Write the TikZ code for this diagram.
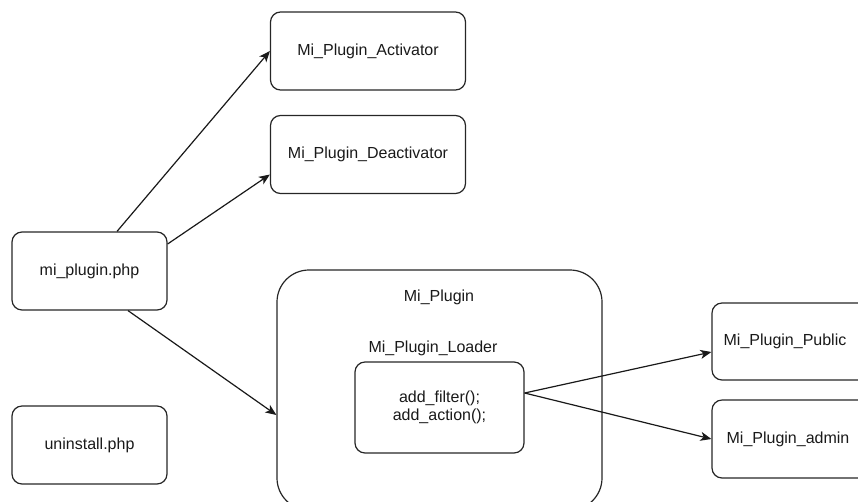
\documentclass[tikz,border=0pt]{standalone}
\usepackage{fontspec}
\setmainfont{Liberation Sans}
\usetikzlibrary{arrows.meta}
\begin{document}
\begin{tikzpicture}[x=1pt,y=-1pt,
  box/.style={draw=black!85, line width=1.2pt, rounded corners=10pt, minimum width=155pt, minimum height=78pt, inner sep=0pt, font=\fontsize{16}{18}\selectfont, text=black!90, align=center},
  lbl/.style={font=\fontsize{16}{18}\selectfont, text=black!90, inner sep=0pt},
  conn/.style={draw=black!90, line width=1.2pt, -{Stealth[length=11pt,width=9pt,inset=3pt]}}]
\useasboundingbox (0,0) rectangle (858,501);
\node[box] (mp) at (89.5,271) {mi\_plugin.php};
\node[box] (un) at (89.5,445) {uninstall.php};
\node[box, minimum width=195pt] (act) at (368,51) {Mi\_Plugin\_Activator};
\node[box, minimum width=195pt] (deact) at (368,154.5) {Mi\_Plugin\_Deactivator};
\node[box, rounded corners=32pt, minimum width=325pt, minimum height=240pt] (mpl) at (439.5,390) {};
\node[lbl] (mpt) at (439,297) {Mi\_Plugin};
\node[lbl] (ldt) at (433,348) {Mi\_Plugin\_Loader};
\node[box, minimum width=169pt, minimum height=91pt] (ld) at (439.5,407.5) {add\_filter();\\add\_action();};
\node[box, minimum width=160pt, minimum height=77pt] (pub) at (792,341.5) {};
\node[lbl] (pubt) at (785,341) {Mi\_Plugin\_Public};
\node[box, minimum width=160pt, minimum height=78pt] (adm) at (792,439) {};
\node[lbl] (admt) at (788,439) {Mi\_Plugin\_admin};
\draw[conn] ([xshift=27.5pt]mp.north) -- (act.west);
\draw[conn] ([yshift=27pt]mp.east) -- ([yshift=-20pt]deact.west);
\draw[conn] ([xshift=38.5pt]mp.south) -- ([yshift=-25pt]mpl.west);
\draw[conn] ([yshift=14.5pt]ld.east) -- ([yshift=-10.5pt]pub.west);
\draw[conn] ([yshift=14.5pt]ld.east) -- (adm.west);
\end{tikzpicture}
\end{document}
